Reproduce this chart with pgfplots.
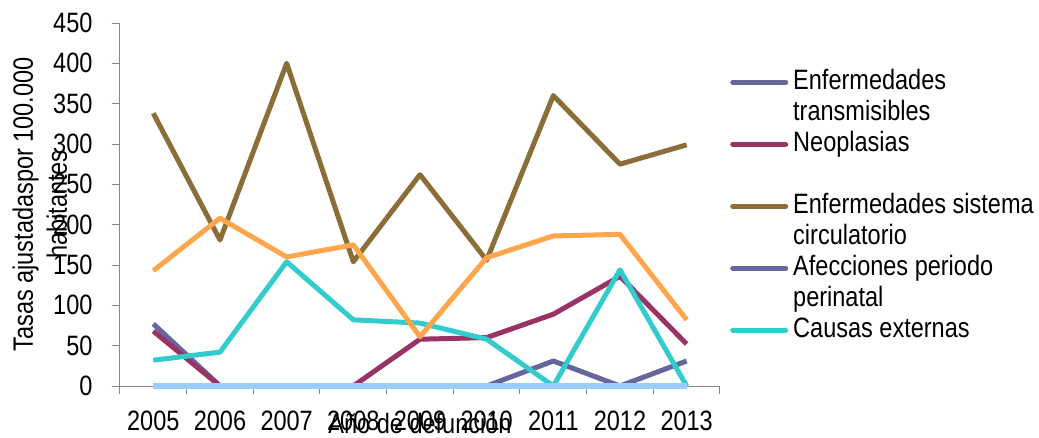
\documentclass[border=0pt]{standalone}
\usepackage{pgfplots}
\pgfplotsset{compat=1.18}
\usepackage{fontspec}
\setmainfont[FakeStretch=0.84]{Liberation Sans}
\definecolor{cTrans}{HTML}{66669E}
\definecolor{cNeo}{HTML}{993366}
\definecolor{cCirc}{HTML}{8B6D38}
\definecolor{cExt}{HTML}{33CCCC}
\definecolor{cOra}{HTML}{FFA64D}
\definecolor{cLB}{HTML}{99CCFF}
\definecolor{cAxis}{HTML}{868686}
\begin{document}
\fontsize{28}{34}\selectfont
\begin{tikzpicture}
\useasboundingbox (-120pt,-51pt) rectangle (919pt,386pt);
\begin{axis}[
  at={(0pt,0pt)}, anchor=south west,
  scale only axis, width=600pt, height=363pt,
  xmin=-0.5, xmax=8.5, ymin=0, ymax=450,
  clip=false,
  axis x line*=bottom, axis y line*=left,
  axis line style={cAxis, line width=1pt},
  tick style={cAxis, line width=1pt},
  tick align=outside,
  major tick length=8pt,
  xtick={-0.5,0.5,...,8.5}, xticklabels={},
  extra x ticks={0,1,2,3,4,5,6,7,8},
  extra x tick labels={2005,2006,2007,2008,2009,2010,2011,2012,2013},
  extra x tick style={major tick length=0pt},
  ytick={0,50,...,450},
  /pgf/number format/assume math mode=true,
  xticklabel style={font=\fontsize{28}{34}\selectfont, anchor=base, yshift=-44pt},
  yticklabel style={font=\fontsize{28}{34}\selectfont, anchor=east, xshift=-10pt},
  ylabel={Tasas ajustadaspor 100.000\\habitantes},
  ylabel style={align=center, at={(axis description cs:-0.1337,0.5)}, anchor=center, font=\fontsize{28}{34}\selectfont},
  xlabel={Año de defunción},
  xlabel style={at={(axis description cs:0.5,0)}, anchor=base, yshift=-47pt, font=\fontsize{28}{34}\selectfont},
  legend cell align=left,
  legend style={draw=none, fill=none, at={(axis description cs:1.0167,0.873)}, anchor=north west,
    row sep=5pt, column sep=5pt, inner sep=0pt,
    nodes={inner sep=0pt, text height=20pt, text depth=6pt, font=\fontsize{28}{34}\selectfont}},
  legend image code/.code={\draw[#1, line cap=round] (0pt,0pt) -- (53pt,0pt);},
  every axis plot/.append style={line width=5pt, line join=round},
]
\addplot[cTrans] coordinates {(0,77) (1,0) (2,0) (3,0) (4,0) (5,0) (6,31) (7,0) (8,31)};
\addlegendentry{Enfermedades}
\addlegendimage{empty legend}
\addlegendentry{transmisibles}
\addplot[cNeo] coordinates {(0,68) (1,0) (2,0) (3,0) (4,58) (5,60) (6,89) (7,136) (8,52)};
\addlegendentry{Neoplasias}
\addlegendimage{empty legend}
\addlegendentry{}
\addplot[cCirc] coordinates {(0,338) (1,181) (2,400) (3,154) (4,262) (5,156) (6,360) (7,275) (8,299)};
\addlegendentry{Enfermedades sistema}
\addlegendimage{empty legend}
\addlegendentry{circulatorio}
\addplot[cTrans] coordinates {(0,0) (1,0) (2,0) (3,0) (4,0) (5,0) (6,0) (7,0) (8,0)};
\addlegendentry{Afecciones periodo}
\addlegendimage{empty legend}
\addlegendentry{perinatal}
\addplot[cExt] coordinates {(0,32) (1,42) (2,154) (3,82) (4,78) (5,58) (6,0) (7,144) (8,0)};
\addlegendentry{Causas externas}
\addplot[cOra, forget plot] coordinates {(0,143) (1,208) (2,160) (3,175) (4,61) (5,159) (6,186) (7,188) (8,82)};
\addplot[cLB, forget plot, line width=6pt] coordinates {(0,0) (1,0) (2,0) (3,0) (4,0) (5,0) (6,0) (7,0) (8,0)};
\end{axis}
\end{tikzpicture}
\end{document}
